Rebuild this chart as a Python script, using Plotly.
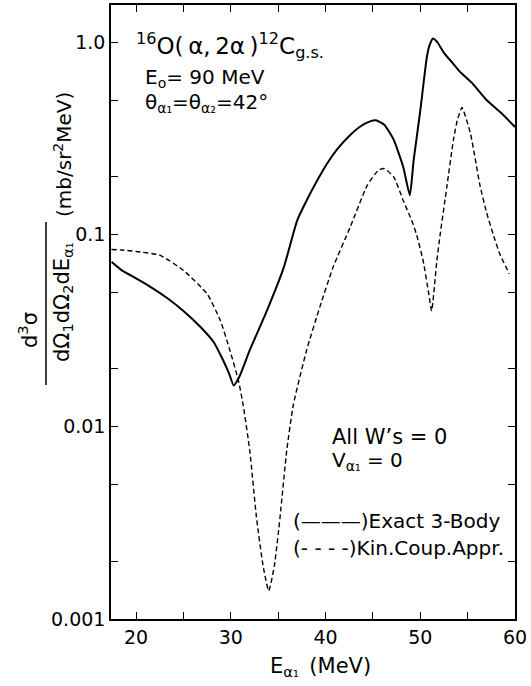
import plotly.graph_objects as go

# ---------------- data ----------------
e_exact = [17.4, 18.5, 20.0, 21.5, 23.2, 25.0, 26.8, 28.2, 29.2, 29.8, 30.3,
           30.9, 32.0, 33.8, 35.6, 37.0, 38.0, 39.1, 40.2, 41.3, 42.5, 43.7,
           44.7, 45.3, 46.2, 47.2, 48.2, 48.9, 49.3, 50.0, 50.7, 51.0, 51.35,
           51.8, 52.5, 53.4, 54.2, 55.5, 57.0, 58.5, 60.0]
xs_exact = [0.072, 0.065, 0.059, 0.0534, 0.047, 0.040, 0.033, 0.0275, 0.0221,
            0.019, 0.0164, 0.0182, 0.025, 0.040, 0.0676, 0.118, 0.15, 0.19,
            0.235, 0.28, 0.325, 0.365, 0.387, 0.392, 0.372, 0.31, 0.224, 0.16,
            0.243, 0.44, 0.84, 0.97, 1.045, 1.0, 0.88, 0.78, 0.70, 0.61, 0.50,
            0.43, 0.362]

e_kin = [17.4, 18.5, 20.0, 22.5, 25.0, 27.5, 28.9, 29.9, 30.8, 31.3, 32.0,
         32.7, 33.4, 34.0, 34.6, 35.2, 35.9, 36.6, 38.0, 39.4, 40.8, 42.6,
         44.4, 45.6, 46.2, 47.2, 48.2, 49.1, 49.6, 50.3, 50.9, 51.2, 51.75,
         52.1, 52.8, 53.5, 53.9, 54.4, 55.3, 56.3, 57.0, 57.7, 58.4, 59.4]
xs_kin = [0.0835, 0.083, 0.0815, 0.078, 0.065, 0.049, 0.0356, 0.025, 0.0174,
          0.013, 0.0075, 0.0034, 0.0019, 0.0014, 0.0019, 0.0034, 0.0075,
          0.013, 0.025, 0.042, 0.0676, 0.109, 0.18, 0.216, 0.22, 0.199, 0.15,
          0.118, 0.10, 0.073, 0.049, 0.040, 0.073, 0.10, 0.176, 0.31, 0.39,
          0.457, 0.334, 0.18, 0.13, 0.10, 0.079, 0.0624]

x_tickvals = [20, 25, 30, 35, 40, 45, 50, 55, 60]
x_ticktext = ["20", "", "30", "", "40", "", "50", "", "60"]
y_tickvals = [0.001, 0.002, 0.005, 0.01, 0.02, 0.05, 0.1, 0.2, 0.5, 1.0]
y_ticktext = ["0.001", "", "", "0.01", "", "", "0.1", "", "", "1.0"]

# ---------------- layout geometry ----------------
W, H = 531, 686
L, R, T, B = 111, 16, 5, 67
PW = W - L - R
PH = H - T - B


def px(x):
    return (x - L) / PW


def py(y):
    return (H - B - y) / PH


FONT = "DejaVu Sans"

fig = go.Figure()
fig.add_trace(go.Scatter(x=e_exact, y=xs_exact, mode="lines",
                         line=dict(color="black", width=2, shape="spline",
                                   smoothing=0.5),
                         showlegend=False))
fig.add_trace(go.Scatter(x=e_kin, y=xs_kin, mode="lines",
                         line=dict(color="black", width=1.4, dash="5px,3px",
                                   shape="spline", smoothing=0.5),
                         showlegend=False))

axis_common = dict(showline=True, linecolor="black", linewidth=1.5,
                   mirror="ticks", ticks="inside", ticklen=7, tickwidth=1.3,
                   tickcolor="black", showgrid=False, zeroline=False,
                   tickfont=dict(family=FONT, size=19, color="black"))

fig.update_xaxes(range=[17.35, 60.0], tickmode="array", tickvals=x_tickvals,
                 ticktext=x_ticktext, **axis_common)
fig.update_yaxes(type="log", range=[-3, 0.193], tickmode="array",
                 tickvals=y_tickvals, ticktext=y_ticktext, **axis_common)

ann = []


def text(x, y, s, size=20, xanchor="left", yanchor="middle", angle=0):
    ann.append(dict(x=px(x), y=py(y), xref="paper", yref="paper", text=s,
                    showarrow=False, xanchor=xanchor, yanchor=yanchor,
                    textangle=angle,
                    font=dict(family=FONT, size=size, color="black")))


text(134, 45, "<sup>16</sup>O(\u2009α,\u20092α\u2009)<sup>12</sup>C<sub>g.s.</sub>",
     size=23)
text(143, 78, "E<sub>o</sub>= 90 MeV", size=20)
text(143, 103, "θ<sub>α₁</sub>=θ<sub>α₂</sub>=42°", size=20)
text(330, 437, "All W’s = 0", size=21)
text(330, 461, "V<sub>α₁</sub> = 0", size=20)
text(291, 521, "(———)Exact 3-Body", size=20)
text(291, 548, "(- - - -)Kin.Coup.Appr.", size=20)

# x-axis title
text(320, 667, "E<sub>α₁</sub>\u2002(MeV)", size=21, xanchor="center")

# y-axis title built as a fraction
text(28, 330, "d<sup>3</sup>σ", size=21, xanchor="center", angle=-90)
text(63, 302, "dΩ<sub>1</sub>dΩ<sub>2</sub>dE<sub>α₁</sub>", size=21,
     xanchor="center", angle=-90)
text(63, 155, "(mb/sr<sup>2</sup>MeV)", size=20, xanchor="center", angle=-90)

fig.add_shape(type="line", xref="paper", yref="paper",
              x0=px(46), x1=px(46), y0=py(222), y1=py(385),
              line=dict(color="black", width=1.5))

fig.update_layout(width=W, height=H, autosize=False,
                  margin=dict(l=L, r=R, t=T, b=B, autoexpand=False),
                  paper_bgcolor="white", plot_bgcolor="white",
                  annotations=ann, font=dict(family=FONT, color="black"))

fig.write_html("out.html")
